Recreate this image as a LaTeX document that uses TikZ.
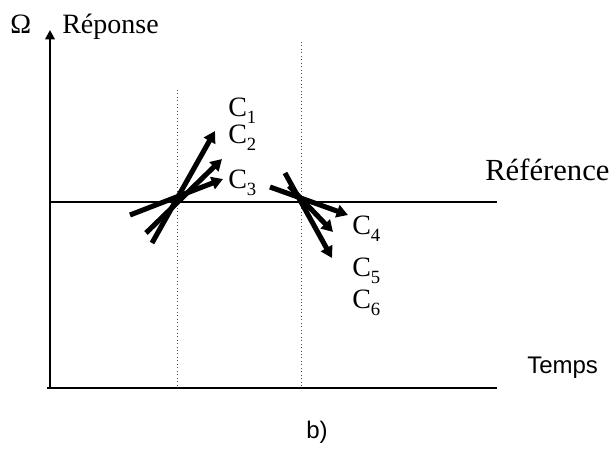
\documentclass[tikz,border=0pt]{standalone}
\usepackage{fontspec}
\setmainfont{Liberation Serif}
\setsansfont{Liberation Sans}
\usetikzlibrary{arrows.meta}
\newcommand{\subsc}[1]{\raisebox{-0.25em}{\fontsize{14}{16}\selectfont #1}}
\begin{document}
\begin{tikzpicture}[x=0.75pt,y=-0.75pt,
  axis/.style={line width=1.7pt},
  refline/.style={line width=1.7pt},
  guide/.style={line width=0.6pt,dotted,black!70},
  vec/.style={line width=3.8pt,-{Triangle[length=8.5pt,width=9.5pt]}},
  lbl/.style={inner sep=0pt,anchor=base west,font=\fontsize{21}{25}\selectfont},
  slbl/.style={inner sep=0pt,anchor=base west,font=\sffamily\fontsize{18}{21}\selectfont}]
\useasboundingbox (0,0) rectangle (615,458);
% axes
\coordinate (O) at (50,388);
\coordinate (Ytop) at (50,30);
\coordinate (Xend) at (497,388);
\coordinate (Rs) at (50,202);
\coordinate (Re) at (497,202);
\draw[axis,-{Triangle[length=7pt,width=7pt]}] ([yshift=0.85pt]O) -- (Ytop);
\draw[axis] ([xshift=-2pt]O) -- (Xend);
\draw[refline] (Rs) -- (Re);
% dotted guides
\coordinate (G1t) at (177,90);
\coordinate (G1b) at (177,388);
\coordinate (G2t) at (301,42);
\coordinate (G2b) at (301,388);
\draw[guide] (G1t) -- (G1b);
\draw[guide] (G2t) -- (G2b);
% left vectors
\coordinate (a1s) at (152,243); \coordinate (a1e) at (215,131);
\coordinate (a2s) at (146,233); \coordinate (a2e) at (222,159);
\coordinate (a3s) at (130,215); \coordinate (a3e) at (223,179);
\draw[vec] (a1s) -- (a1e);
\draw[vec] (a2s) -- (a2e);
\draw[vec] (a3s) -- (a3e);
% right vectors
\coordinate (b1s) at (270,187); \coordinate (b1e) at (348,215);
\coordinate (b2s) at (289,186); \coordinate (b2e) at (333,232);
\coordinate (b3s) at (285,173); \coordinate (b3e) at (332,258);
\draw[vec] (b1s) -- (b1e);
\draw[vec] (b2s) -- (b2e);
\draw[vec] (b3s) -- (b3e);
% labels
\node[lbl] (omega) at (10,33) {Ω};
\node[lbl] (rep) at (62,33) {Réponse};
\node[lbl,font=\fontsize{23}{27}\selectfont] (ref) at (485,180) {Référence};
\node[lbl] (c1) at (228,116) {C\subsc{1}};
\node[lbl] (c2) at (228,143) {C\subsc{2}};
\node[lbl] (c3) at (228,188) {C\subsc{3}};
\node[lbl] (c4) at (352,234) {C\subsc{4}};
\node[lbl] (c5) at (352,276) {C\subsc{5}};
\node[lbl] (c6) at (352,308) {C\subsc{6}};
\node[slbl] (temps) at (527,373) {Temps};
\node[slbl] (b) at (306,438) {b)};
\end{tikzpicture}
\end{document}
